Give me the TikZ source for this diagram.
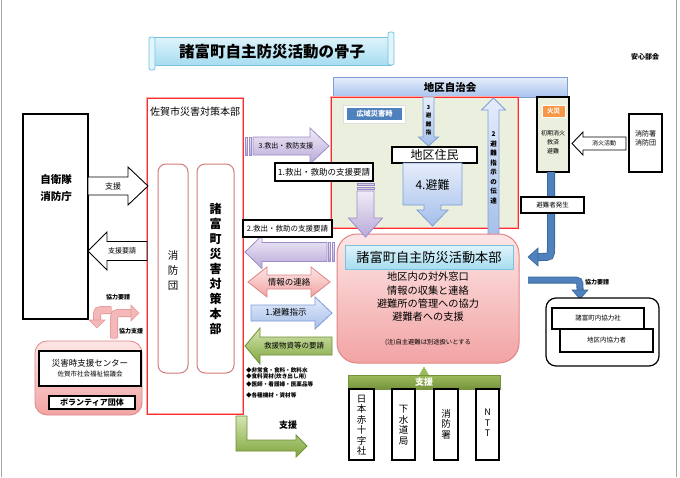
\documentclass[tikz,border=0pt]{standalone}
\usepackage{fontspec}
\setmainfont{Noto Sans CJK JP}
\definecolor{titleT}{HTML}{DFF4FB}
\definecolor{titleBt}{HTML}{A6DDF0}
\definecolor{titleB}{HTML}{79C3DE}
\definecolor{jichiT}{HTML}{E6EEFB}
\definecolor{jichiBt}{HTML}{A9C4EE}
\definecolor{jichiB}{HTML}{7F9FD5}
\definecolor{areaF}{HTML}{EBF0DE}
\definecolor{redL}{HTML}{FF2A2A}
\definecolor{redH}{HTML}{FFA8A8}
\definecolor{pinkT}{HTML}{FDE6E6}
\definecolor{pinkBt}{HTML}{F2A3A3}
\definecolor{pinkB}{HTML}{E08585}
\definecolor{purpT}{HTML}{F0ECF7}
\definecolor{purpBt}{HTML}{B9A9D8}
\definecolor{purpB}{HTML}{9C8BC7}
\definecolor{blueT}{HTML}{E5EDFB}
\definecolor{blueBt}{HTML}{A5BFEA}
\definecolor{blueB}{HTML}{7D9DD4}
\definecolor{greenT}{HTML}{D5E6B3}
\definecolor{greenBt}{HTML}{7FA63C}
\definecolor{greenB}{HTML}{6F8F35}
\definecolor{gbarT}{HTML}{9BBB59}
\definecolor{gbarB}{HTML}{76923C}
\definecolor{lineBlue}{HTML}{4F81BD}
\definecolor{lineEdge}{HTML}{3B6699}
\definecolor{orangeC}{HTML}{F79646}
\definecolor{innerPink}{HTML}{D47C7C}
\definecolor{pinkArr}{HTML}{F5B8B8}
\definecolor{pinkArrE}{HTML}{E39A9A}
\newcommand\fsz[1]{\fontsize{#1}{#1}\selectfont}
% right arrow: style, tail x, tip x, yc, shaft half, head half, head length
\newcommand\arrR[7]{\path[#1] (#2,#4-#5) -- (#3-#7,#4-#5) -- (#3-#7,#4-#6) -- (#3,#4) -- (#3-#7,#4+#6) -- (#3-#7,#4+#5) -- (#2,#4+#5) -- cycle;}
% left arrow: style, tip x, tail x, yc, shaft half, head half, head length
\newcommand\arrL[7]{\path[#1] (#3,#4-#5) -- (#2+#7,#4-#5) -- (#2+#7,#4-#6) -- (#2,#4) -- (#2+#7,#4+#6) -- (#2+#7,#4+#5) -- (#3,#4+#5) -- cycle;}
% down arrow: style, xc, tail y, tip y, shaft half, head half, head length
\newcommand\arrD[7]{\path[#1] (#2-#5,#3) -- (#2-#5,#4-#7) -- (#2-#6,#4-#7) -- (#2,#4) -- (#2+#6,#4-#7) -- (#2+#5,#4-#7) -- (#2+#5,#3) -- cycle;}
% up arrow: style, xc, tail y (bottom), tip y (top), shaft half, head half, head length
\newcommand\arrU[7]{\path[#1] (#2-#5,#3) -- (#2-#5,#4+#7) -- (#2-#6,#4+#7) -- (#2,#4) -- (#2+#6,#4+#7) -- (#2+#5,#4+#7) -- (#2+#5,#3) -- cycle;}
% double arrow: style, left tip, right tip, yc, shaft half, head half, head length
\newcommand\arrLR[7]{\path[#1] (#2,#4) -- (#2+#7,#4-#6) -- (#2+#7,#4-#5) -- (#3-#7,#4-#5) -- (#3-#7,#4-#6) -- (#3,#4) -- (#3-#7,#4+#6) -- (#3-#7,#4+#5) -- (#2+#7,#4+#5) -- (#2+#7,#4+#6) -- cycle;}
\tikzset{
  purp/.style={draw=purpB, top color=purpT, bottom color=purpBt, line width=0.8pt},
  bluea/.style={draw=blueB, top color=blueT, bottom color=blueBt, line width=0.8pt},
  pinka/.style={draw=pinkB, top color=pinkT, bottom color=pinkBt, line width=0.8pt},
  greena/.style={draw=greenB, top color=greenT, bottom color=greenBt, line width=0.8pt},
  whitea/.style={draw=black, fill=white, line width=0.9pt},
  blackbox/.style={draw=black, fill=white, line width=1.6pt},
  vtext/.style={align=center},
}
\begin{document}
\begin{tikzpicture}[x=1pt,y=-1pt, every node/.style={inner sep=0pt, outer sep=0pt}]
\useasboundingbox (0,0) rectangle (680,477);
\fill[white] (0,0) rectangle (680,477);
% frame lines
\draw[gray!70, line width=1pt] (1,0) -- (1,477);
\draw[gray!70, line width=1pt] (676,0) -- (676,477);

% ---- title banner
\path[draw=titleB, top color=titleT, bottom color=titleBt, line width=0.8pt] (152,37) rectangle (391,65);
\path[draw=titleB, fill=titleT, rounded corners=2pt, line width=0.8pt] (149,37) rectangle (155,70);
\path[draw=titleB, fill=titleT, rounded corners=2pt, line width=0.8pt] (388,32) rectangle (394,65);
\node (title) at (272,52) {\fsz{15.5}\bfseries 諸富町自主防災活動の骨子};
\node (anshin) at (645,57) {\fsz{7}\bfseries 安心部会};

% ---- 地区自治会 bar
\path[draw=jichiB, top color=jichiT, bottom color=jichiBt, line width=0.8pt] (333,77) rectangle (567,97);
\node (jichi) at (450,87) {\fsz{10.5}\bfseries 地区自治会};

% ---- 地区 area
\path[draw=redH, line width=2pt, fill=areaF] (331,97) rectangle (518,228);
\draw[redL, line width=0.8pt] (331,97) rectangle (518,228);
\path[fill=white, draw=gray!25, line width=0.5pt] (343,105) rectangle (405,123);
\path[fill=lineBlue] (347,108) rectangle (402,120);
\node[text=white] (kouiki) at (374.5,114) {\fsz{7.2}\bfseries 広域災害時};

% 3 避難指 arrow
\arrD{bluea}{428.5}{97}{146}{5.5}{10}{9}
\node[vtext, font={\fontsize{5.5}{8.5}\selectfont\bfseries}] (hinan3) at (428.5,120) {3\\避\\難\\指};

% 地区住民
\node[blackbox, minimum width=85pt, minimum height=16pt] (jumin) at (434.5,155) {\fsz{12}地区住民};

% 4.避難 callout arrow
\path[bluea] (403,163) -- (462,163) -- (462,205) -- (441,205) -- (441,210) -- (448,210) -- (432.5,226) -- (417,210) -- (424,210) -- (424,205) -- (403,205) -- cycle;
\node (hinan4) at (432.5,185) {\fsz{12}4.避難};

% 2 避難指示の伝達 up arrow
\arrU{bluea}{493.5}{237}{98}{5.5}{12}{12}
\node[vtext, font={\fontsize{6.5}{9.5}\selectfont\bfseries}] (dentatsu) at (493.5,168) {2\\避\\難\\指\\示\\の\\伝\\達};

% ---- 火災 box
\path[draw=black, line width=1.8pt, fill=areaF] (537,97) rectangle (569,172);
\path[fill=orangeC, draw=white, line width=0.6pt] (542,105) rectangle (565,117);
\node[text=white] (kasai) at (553.5,111) {\fsz{6.5}\bfseries 火災};
\node[vtext, font={\fontsize{6}{9}\selectfont}] (shoki) at (553,142) {初期消火\\救済\\避難};

% 消防署・消防団
\path[draw=black, line width=1.8pt, fill=white] (629,114) rectangle (662,172);
\node[vtext, font={\fontsize{7}{9}\selectfont}] (shoboR) at (645.5,138) {消防署\\消防団};
\arrL{whitea}{572}{626}{143.5}{6.5}{11.5}{11}
\node (shoka) at (604,143.5) {\fsz{6}消火活動};

% blue bent arrow 火災 -> 本部
\draw[lineEdge, line width=8pt] (551,172) -- (551,247) .. controls (551,257) .. (541,257) -- (537,257);
\draw[lineBlue, line width=6.4pt] (551,172) -- (551,247) .. controls (551,257) .. (541,257) -- (536,257);
\path[fill=lineBlue, draw=lineEdge, line width=0.6pt] (538,248) -- (538,266) -- (528,257) -- cycle;
\node[blackbox, line width=1.2pt, minimum width=63pt, minimum height=16pt] (hassei) at (552.5,205) {\fsz{6.5}避難者発生};

% blue bent arrow 本部 -> 協力
\draw[lineEdge, line width=7pt] (528,280) -- (570,280) .. controls (580,280) .. (580,289) -- (580,291);
\draw[lineBlue, line width=5.4pt] (528,280) -- (570,280) .. controls (580,280) .. (580,289) -- (580,292);
\path[fill=lineBlue, draw=lineEdge, line width=0.6pt] (572,290) -- (588,290) -- (580,299) -- cycle;
\node (kyoryokuR) at (597,282) {\fsz{6}\bfseries 協力要請};

% right bottom box
\draw[line width=1.2pt, rounded corners=10pt, fill=white] (546,298) rectangle (659,366);
\path[draw=black, line width=1.2pt, fill=white] (552,308) rectangle (644,329);
\path[draw=black, line width=1.2pt, fill=white] (560,329) rectangle (653,352);
\node (kyoryokusha) at (598,318.5) {\fsz{6.5}諸富町内協力社};
\node (chikukyo) at (606.5,340.5) {\fsz{6.5}地区内協力者};

% ---- 本部 box
\path[draw=pinkB, top color=pinkT, bottom color=pinkBt, rounded corners=20pt, line width=1pt] (337,234) rectangle (519,363);
\path[draw=titleB, top color=titleT, bottom color=titleBt, line width=0.8pt] (345,245) rectangle (513,269);
\node (honbu) at (429,257) {\fsz{13.2}諸富町自主防災活動本部};
\node (l1) at (428,277) {\fsz{10.2}地区内の対外窓口};
\node (l2) at (428,291) {\fsz{10.2}情報の収集と連絡};
\node (l3) at (428,303.5) {\fsz{10.2}避難所の管理への協力};
\node (l4) at (428,317) {\fsz{10.2}避難者への支援};
\node (note) at (428,342) {\fsz{6.3}(注)自主避難は別途扱いとする};

% 支援 green bar
\path[fill=gbarT, draw=gbarT] (419.5,375) -- (428.5,375) -- (424,367) -- cycle;
\path[top color=gbarT, bottom color=gbarB, draw=gbarB, line width=0.5pt] (348,375) rectangle (500,389);
\node[text=white] (shienbar) at (424,382) {\fsz{9}\bfseries 支援};
\path[blackbox, line width=1.8pt] (349,389) rectangle (374,460);
\path[blackbox, line width=1.8pt] (392,389) rectangle (415,460);
\path[blackbox, line width=1.8pt] (434,389) rectangle (458,460);
\path[blackbox, line width=1.8pt] (476,389) rectangle (499,460);
\node[vtext, font={\fontsize{9.5}{10.5}\selectfont}] (sekijuji) at (361.5,425) {日\\本\\赤\\十\\字\\社};
\node[vtext, font={\fontsize{9.5}{10.5}\selectfont}] (gesui) at (403.5,425) {下\\水\\道\\局};
\node[vtext, font={\fontsize{9.5}{10.5}\selectfont}] (shobosho) at (446,424) {消\\防\\署};
\node[vtext, font={\fontsize{9}{10.5}\selectfont}] (ntt) at (487.5,423) {N\\T\\T};

% ---- 佐賀市災害対策本部
\draw[redH, line width=2pt] (147,98) rectangle (243,414);
\draw[redL, line width=0.8pt] (147,98) rectangle (243,414);
\node (saga) at (195,112) {\fsz{10}佐賀市災害対策本部};
\draw[innerPink, line width=1pt, rounded corners=8pt] (158,164) rectangle (188,373);
\draw[innerPink, line width=1pt, rounded corners=8pt] (197,164) rectangle (234,373);
\node[vtext, font={\fontsize{10.5}{15}\selectfont}] (shobodan) at (173,270) {消\\防\\団};
\node[vtext, font={\fontsize{12}{15}\selectfont\bfseries}] (saitai) at (215.5,269) {諸\\富\\町\\災\\害\\対\\策\\本\\部};

% ---- 自衛隊・消防庁
\path[draw=black, line width=2pt, fill=white] (23,114) rectangle (88,319);
\node[vtext, font={\fontsize{10.5}{17}\selectfont\bfseries}] (jieitai) at (56,188.5) {自衛隊\\消防庁};
\arrR{whitea}{88}{148}{186}{9}{19}{20}
\node (shien1) at (113,186) {\fsz{8}支援};
\arrL{whitea}{88}{147}{251}{9.5}{19}{19}
\node (shienyosei) at (122,251) {\fsz{7}支援要請};

% pink curved arrows
\draw[pinkArrE, line width=8pt] (111,310) -- (106,310) .. controls (97,310) .. (97,318) -- (97,320);
\draw[pinkArr, line width=6.4pt] (112,310) -- (106,310) .. controls (97,310) .. (97,318) -- (97,321);
\path[fill=pinkArr, draw=pinkArrE, line width=0.6pt] (89,320) -- (105,320) -- (97,328) -- cycle;
\draw[pinkArrE, line width=8pt] (114,338) -- (114,322) .. controls (114,313) .. (123,313) -- (131,313);
\draw[pinkArr, line width=6.4pt] (114,339) -- (114,322) .. controls (114,313) .. (123,313) -- (132,313);
\path[fill=pinkArr, draw=pinkArrE, line width=0.6pt] (131,305) -- (131,321) -- (139,313) -- cycle;
\node (kyoryokuL) at (118,297) {\fsz{6}\bfseries 協力要請};
\node (kyoshien) at (131,331) {\fsz{6}\bfseries 協力支援};

% 災害時支援センター
\path[draw=pinkB, top color=pinkT, bottom color=pinkBt, rounded corners=12pt, line width=0.8pt] (35,341) rectangle (142,415);
\path[draw=black, line width=1.2pt, fill=white] (39,351) rectangle (141,386);
\node (center) at (90,363) {\fsz{8.5}災害時支援センター};
\node (shakyo) at (90,374.5) {\fsz{6.5}佐賀市社会福祉協議会};
\node[draw=black, line width=1.2pt, fill=white, minimum width=86pt, minimum height=13pt] (volun) at (92,402.5) {\fsz{8}\bfseries ボランティア団体};

% ---- middle arrows
\arrR{purp}{253}{329}{146}{9}{18}{19}
\path[purp] (245,137) rectangle (247,155);
\path[purp] (249,137) rectangle (251,155);
\node (kyushutsu3) at (286,146) {\fsz{7}3.救出・救防支援};

\arrD{purp}{365.5}{191}{237}{8.5}{17}{19}
\path[purp] (357,183) rectangle (374,185);
\path[purp] (357,187) rectangle (374,189);
\node[blackbox, minimum width=98pt, minimum height=18pt] (yosei1) at (324,172) {\fsz{8.5}1.救出・救助の支援要請};

\arrL{purp}{245}{327}{252}{9.5}{16.5}{17}
\path[purp] (328.5,242.5) rectangle (330.5,261.5);
\path[purp] (332,242.5) rectangle (334,261.5);
\node[blackbox, minimum width=89pt, minimum height=17pt] (yosei2) at (287.5,228.5) {\fsz{7.5}2.救出・救助の支援要請};

\arrLR{pinka}{248}{330}{282}{7}{15}{19}
\node (renraku) at (289,282) {\fsz{8.5}情報の連絡};

\arrR{bluea}{251}{332}{313}{8}{16}{17}
\node (shiji1) at (286,312.5) {\fsz{8.5}1.避難指示};

\arrL{greena}{245}{332}{346}{9}{18}{15}
\node (busshi) at (294,346) {\fsz{7.5}救援物資等の要請};

\node[anchor=west] (b1) at (246,370) {\fsz{5.6}\bfseries ◆非常食・食料・飲料水};
\node[anchor=west] (b2) at (246,377) {\fsz{5.6}\bfseries ◆食料資材(炊き出し用)};
\node[anchor=west] (b3) at (246,384) {\fsz{5.6}\bfseries ◆医師・看護婦・医薬品等};
\node[anchor=west] (b4) at (246,395) {\fsz{5.6}\bfseries ◆各種機材・資材等};

% green bent arrow
\path[greena] (236,416) -- (247,416) -- (247,440) -- (296,440) -- (296,435) -- (307,446) -- (296,457) -- (296,451) -- (236,451) -- cycle;
\node (shien2) at (288,425) {\fsz{9}\bfseries 支援};
\end{tikzpicture}
\end{document}
